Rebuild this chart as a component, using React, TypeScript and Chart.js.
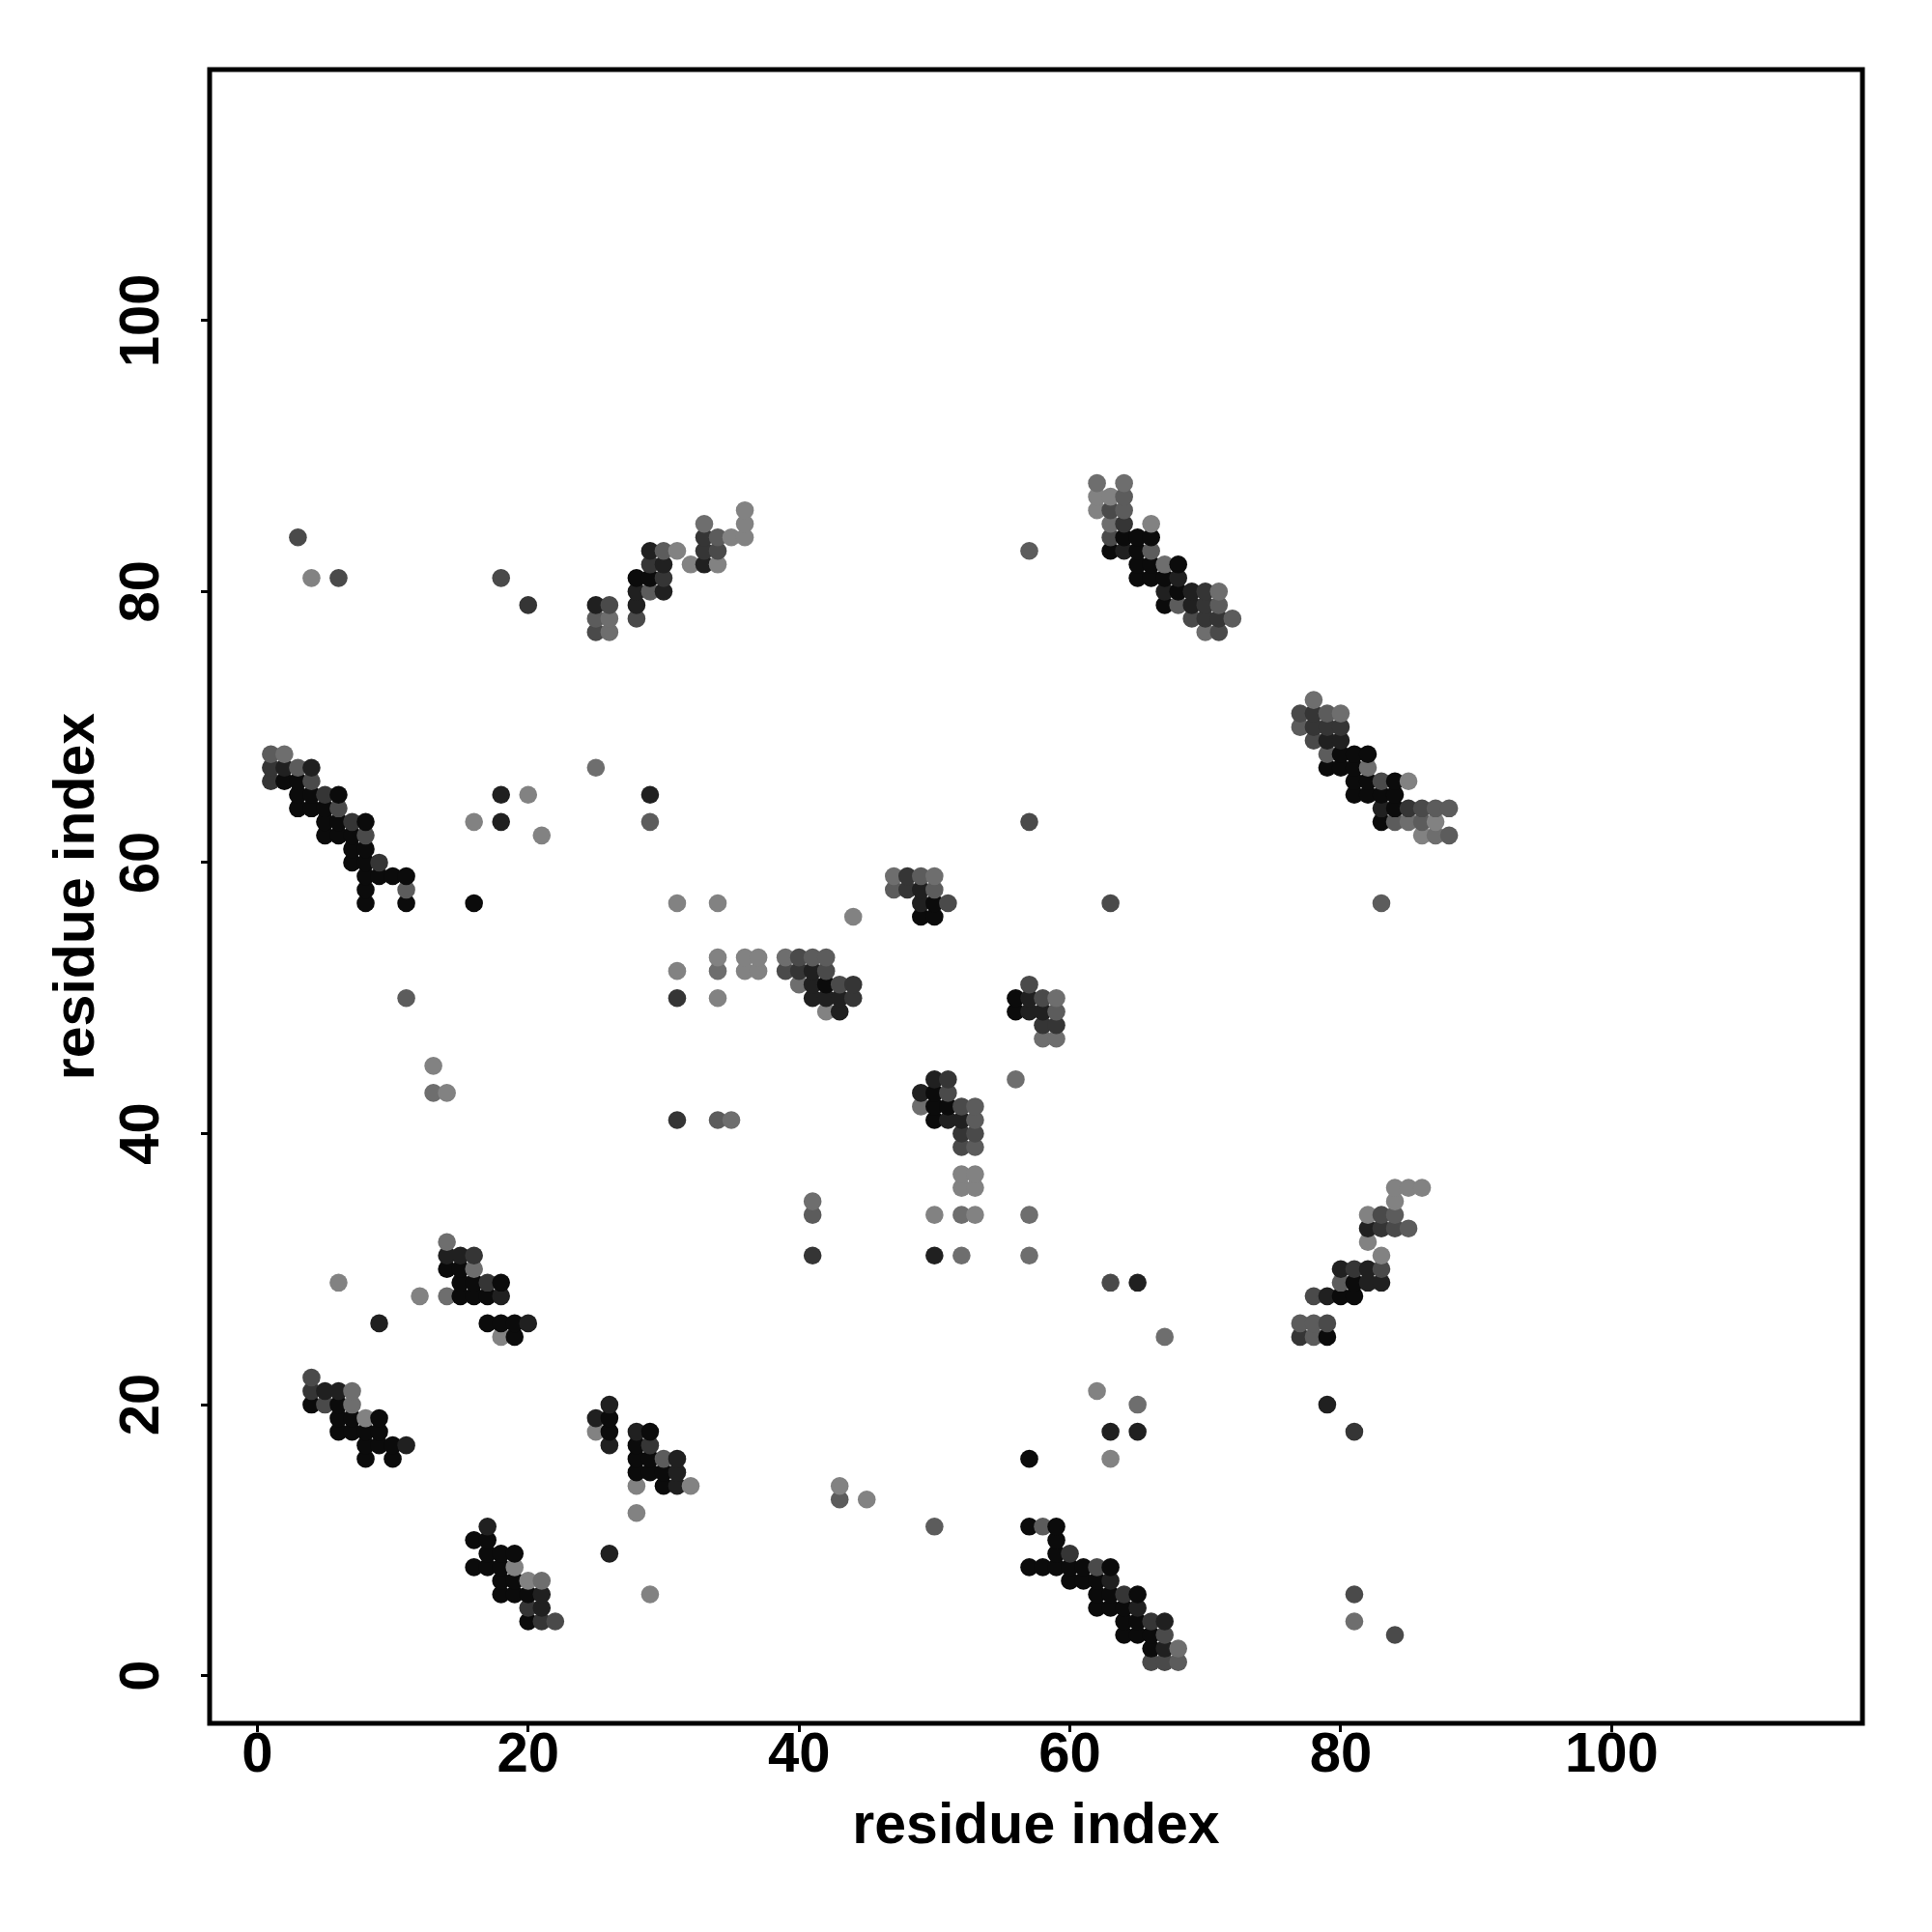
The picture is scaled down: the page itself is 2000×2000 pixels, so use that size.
import { useEffect, useRef } from "react";
import { Chart, registerables } from "chart.js";

Chart.register(...registerables);

// Gray shades, darkest (0) to lightest (6)
const SHADE_COLORS = ["#0b0b0b", "#202020", "#353535", "#4a4a4a", "#5c5c5c", "#6e6e6e", "#828282"];

// Contacts [residue i, residue j] grouped by shade level
const shade0: [number, number][] = [
  [28, 81], [29, 81],
  [2, 66], [3, 66], [3, 65], [4, 65], [6, 65], [3, 64], [4, 64], [5, 64], [5, 63], [6, 63], [8, 63], [5, 62], [6, 62], [7, 62],
  [7, 61], [8, 61], [7, 60], [8, 60], [8, 59], [9, 59], [10, 59], [11, 59], [8, 58], [8, 57], [11, 57], [16, 57],
  [14, 30], [15, 30], [15, 29], [16, 29], [18, 29], [15, 28], [16, 28], [17, 28], [17, 26], [18, 26], [19, 26], [19, 25],
  [4, 20], [6, 20], [6, 19], [7, 19], [9, 19], [6, 18], [7, 18], [8, 18], [9, 18], [8, 17], [9, 17], [10, 17], [8, 16], [10, 16],
  [26, 19], [26, 18], [29, 18], [28, 17], [28, 16], [29, 16], [28, 15], [29, 15], [30, 15], [30, 14],
  [16, 10], [17, 10], [17, 9], [18, 9], [19, 9], [16, 8], [17, 8], [18, 8], [18, 7], [19, 7], [18, 6], [19, 6], [20, 6], [20, 4],
  [50, 57], [49, 56], [50, 56], [42, 51], [56, 50], [56, 49],
  [50, 43], [50, 42], [51, 42], [50, 41],
  [57, 16], [57, 11], [59, 11], [59, 10], [59, 9], [57, 8], [58, 8], [59, 8], [60, 8], [61, 8], [63, 8], [60, 7], [61, 7], [62, 7],
  [62, 6], [63, 6], [65, 6], [62, 5], [63, 5], [64, 5], [64, 4], [65, 4], [64, 3], [65, 3], [66, 3], [66, 2],
  [81, 29], [80, 28], [81, 28], [79, 25],
  [64, 84], [65, 84], [66, 84], [63, 83], [65, 83], [65, 82], [66, 82], [68, 82], [65, 81], [66, 81], [67, 81], [68, 80], [67, 79],
  [80, 68], [81, 68], [82, 68], [79, 67], [80, 67], [81, 67], [81, 66], [82, 66], [84, 66], [81, 65], [82, 65], [83, 65], [84, 65],
  [84, 64], [83, 63],
];

const shade1: [number, number][] = [
  [25, 79], [28, 80], [28, 79], [29, 83], [30, 82], [30, 80], [33, 82],
  [2, 67], [4, 67],
  [18, 65], [18, 63], [29, 65],
  [14, 31], [15, 31], [18, 28], [9, 26], [20, 26],
  [5, 21], [6, 21], [11, 17],
  [26, 20], [25, 19], [26, 17], [28, 18], [31, 16], [31, 15], [31, 14], [26, 9],
  [17, 11], [21, 6], [21, 5],
  [49, 58], [49, 57], [41, 52], [41, 51], [41, 50], [42, 50], [43, 50], [43, 49],
  [57, 50], [57, 49], [58, 49], [50, 44], [49, 43], [51, 41], [52, 41],
  [50, 31],
  [63, 7], [65, 5], [67, 4], [67, 2],
  [63, 18], [65, 18], [79, 20], [65, 29], [82, 29], [83, 29], [79, 28],
  [82, 33], [80, 30], [82, 30],
  [64, 83], [68, 81], [67, 80], [69, 80], [69, 79],
  [79, 69], [80, 69], [83, 64],
];

const shade2: [number, number][] = [
  [20, 79], [29, 82], [30, 81], [33, 84], [33, 83],
  [1, 67], [1, 66], [5, 65], [7, 63], [9, 60],
  [16, 31], [17, 29],
  [4, 21],
  [29, 17],
  [20, 5], [21, 4],
  [48, 59], [48, 58], [40, 52], [44, 51], [44, 50],
  [58, 48], [59, 48], [51, 44], [52, 40],
  [31, 50], [31, 41], [41, 31],
  [60, 9], [64, 6], [66, 4], [81, 18],
  [77, 25], [83, 33], [81, 30],
  [64, 85], [70, 80], [70, 79], [70, 78], [71, 78],
  [78, 71], [78, 70], [79, 70], [80, 70], [85, 64],
];

const shade3: [number, number][] = [
  [3, 84], [6, 81], [18, 81], [26, 79], [25, 77], [28, 78], [34, 83],
  [4, 66], [6, 64], [8, 62],
  [4, 22], [5, 20],
  [22, 4],
  [51, 57], [40, 53], [39, 52], [42, 52], [43, 51],
  [57, 51], [58, 50],
  [51, 43], [52, 42], [53, 40], [52, 39],
  [62, 8], [67, 3], [66, 1], [67, 1],
  [81, 6], [84, 3], [63, 29], [78, 28], [79, 26],
  [63, 57], [57, 63], [83, 34], [84, 33], [83, 30],
  [63, 86], [63, 84], [69, 78], [71, 77],
  [77, 71], [78, 69], [83, 66], [86, 64],
];

const shade4: [number, number][] = [
  [25, 78], [29, 80], [30, 83], [34, 84], [57, 83],
  [1, 68], [3, 67], [29, 63],
  [11, 58], [11, 50],
  [30, 16],
  [49, 59], [47, 58], [50, 58], [41, 53], [42, 53], [34, 41],
  [59, 49], [53, 42], [53, 41], [53, 39], [41, 34],
  [43, 13], [50, 11], [58, 11], [68, 1],
  [80, 29], [77, 26], [78, 26], [78, 25],
  [83, 57], [84, 34], [85, 33],
  [64, 87], [64, 86], [66, 83], [68, 79], [71, 79], [72, 78],
  [79, 71], [77, 70], [79, 68], [87, 64], [88, 64], [84, 63], [86, 63], [88, 62],
];

const shade5: [number, number][] = [
  [26, 78], [26, 77], [33, 85],
  [2, 68], [25, 67],
  [13, 43], [14, 32], [16, 30], [14, 28],
  [7, 21], [7, 20],
  [21, 7],
  [47, 59], [50, 59], [39, 53], [34, 52], [40, 51],
  [59, 50], [58, 47], [59, 47], [56, 44], [49, 42],
  [35, 41], [41, 35], [52, 34], [57, 34], [52, 31], [57, 31],
  [68, 2], [81, 4], [65, 20], [67, 25],
  [62, 88], [64, 88], [63, 85], [67, 82], [71, 80], [70, 77],
  [78, 72], [80, 71], [82, 67], [85, 63], [87, 62],
];

const shade6: [number, number][] = [
  [4, 81], [31, 83], [32, 82], [34, 82], [35, 84], [36, 84], [36, 86], [36, 85],
  [20, 65], [16, 63], [21, 62],
  [13, 45], [14, 43],
  [6, 29], [12, 28], [18, 25],
  [8, 19],
  [25, 18], [28, 14], [32, 14], [28, 12], [29, 6],
  [19, 8], [20, 7],
  [31, 57], [34, 57], [44, 56],
  [34, 53], [36, 53], [37, 53], [31, 52], [36, 52], [37, 52], [34, 50], [42, 49],
  [52, 37], [53, 37], [52, 36], [53, 36],
  [50, 34], [53, 34],
  [43, 14], [45, 13],
  [62, 21], [63, 16],
  [84, 36], [85, 36], [86, 36], [84, 35], [82, 34], [82, 32], [83, 31],
  [62, 87], [63, 87], [62, 86], [66, 85],
  [85, 66], [87, 63], [86, 62],
];

const AXIS_MIN = -3.52;
const AXIS_MAX = 118.52;
const TICK_VALUES = [0, 20, 40, 60, 80, 100];
const X_TITLE = "residue index";
const Y_TITLE = "residue index";

const FONT_FAMILY = "'Liberation Sans', Arial, Helvetica, sans-serif";

const framePlugin = {
  id: "frame",
  afterDraw(chart: any) {
    const { ctx, chartArea } = chart;
    ctx.save();
    ctx.strokeStyle = "#000";
    ctx.lineWidth = 5;
    ctx.lineJoin = "miter";
    ctx.strokeRect(chartArea.left, chartArea.top, chartArea.right - chartArea.left, chartArea.bottom - chartArea.top);
    ctx.restore();
  },
};

export default function App() {
  const canvasRef = useRef<HTMLCanvasElement | null>(null);

  useEffect(() => {
    const groups = [shade0, shade1, shade2, shade3, shade4, shade5, shade6];
    const pts: { x: number; y: number; level: number }[] = [];
    groups.forEach((g, level) => g.forEach(([x, y]) => pts.push({ x, y, level })));
    pts.sort((a, b) => a.x - b.x || a.y - b.y);

    const tickFont = { family: FONT_FAMILY, size: 58, weight: "bold" as const, lineHeight: 1 };
    const titleFont = { family: FONT_FAMILY, size: 59, weight: "bold" as const, lineHeight: 1.2 };
    const setTicks = (s: any) => {
      s.ticks = TICK_VALUES.map((v) => ({ value: v }));
    };

    const chart = new Chart(canvasRef.current as HTMLCanvasElement, {
      type: "scatter",
      data: {
        datasets: [
          {
            data: pts.map((p) => ({ x: p.x, y: p.y })),
            pointBackgroundColor: pts.map((p) => SHADE_COLORS[p.level]),
            pointBorderWidth: 0,
            pointRadius: 9.3,
            pointHoverRadius: 9.3,
          },
        ],
      },
      options: {
        animation: false,
        responsive: false,
        devicePixelRatio: 1,
        events: [],
        layout: { padding: { top: 72, right: 72, left: 0, bottom: 0 } },
        plugins: { legend: { display: false }, tooltip: { enabled: false } },
        scales: {
          x: {
            type: "linear",
            min: AXIS_MIN,
            max: AXIS_MAX,
            afterBuildTicks: setTicks,
            afterFit: (s: any) => {
              s.height = 216;
            },
            border: { display: false },
            grid: { drawOnChartArea: false, drawTicks: true, tickLength: 9, tickWidth: 3, tickColor: "#000" },
            ticks: { color: "#000", font: tickFont, padding: -4, minRotation: 0, maxRotation: 0, autoSkip: false },
            title: { display: true, text: X_TITLE, color: "#000", font: titleFont, padding: { top: 0, bottom: 73 } },
          },
          y: {
            type: "linear",
            min: AXIS_MIN,
            max: AXIS_MAX,
            afterBuildTicks: setTicks,
            afterFit: (s: any) => {
              s.width = 217;
            },
            border: { display: false },
            grid: { drawOnChartArea: false, drawTicks: true, tickLength: 9, tickWidth: 3, tickColor: "#000" },
            ticks: { color: "#000", font: tickFont, padding: 12, minRotation: 90, maxRotation: 90, crossAlign: "center", autoSkip: false },
            title: { display: true, text: Y_TITLE, color: "#000", font: titleFont, padding: { top: 45, bottom: 0 } },
          },
        },
      } as any,
      plugins: [framePlugin],
    });

    return () => chart.destroy();
  }, []);

  return (
    <div style={{ position: "absolute", left: 0, top: 0, width: 2000, height: 2000, background: "#fff" }}>
      <canvas ref={canvasRef} width={2000} height={2000} style={{ display: "block", width: 2000, height: 2000 }} />
    </div>
  );
}
